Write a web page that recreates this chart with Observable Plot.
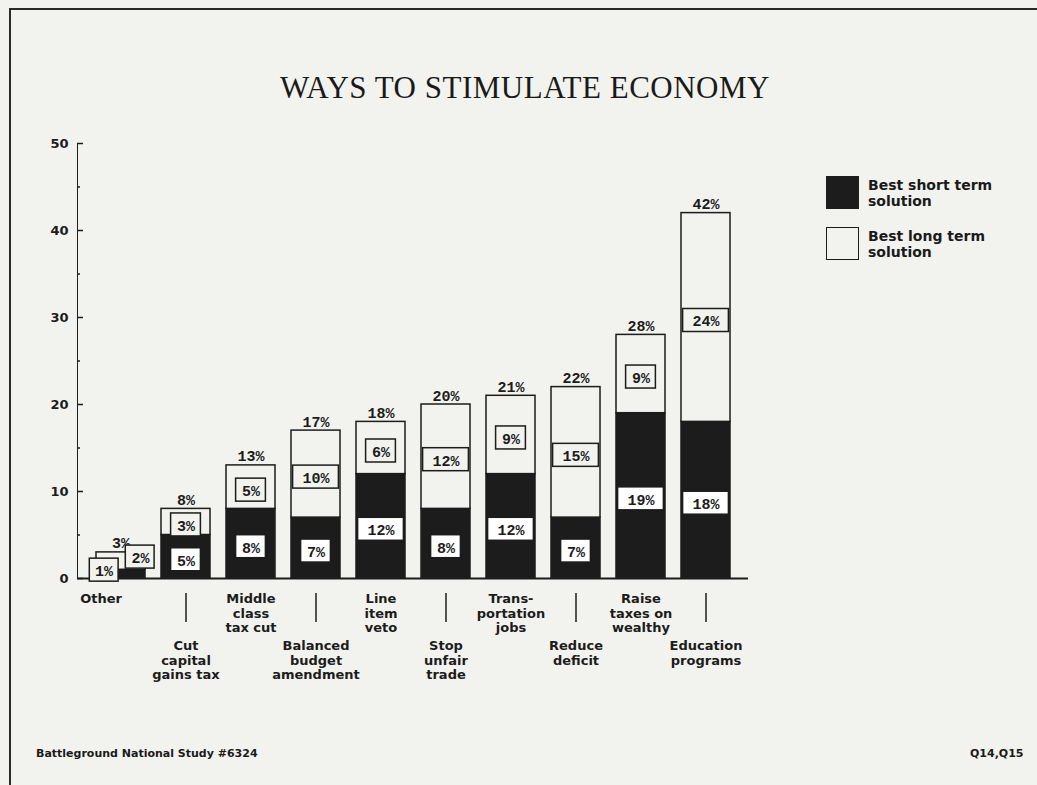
<!DOCTYPE html>
<html>
<head>
<meta charset="utf-8">
<script src="https://cdn.jsdelivr.net/npm/d3@7"></script>
<script src="https://cdn.jsdelivr.net/npm/@observablehq/plot@0.6"></script>
<style>
  html, body { margin: 0; padding: 0; background: #f2f3ee; }
  #page { position: relative; width: 1037px; height: 785px; overflow: hidden; background: #f2f3ee; color: #1a1a1a; }
  #frame { position: absolute; left: 9px; top: 8px; width: 1100px; height: 900px; border-left: 2px solid #2a2a2a; border-top: 2px solid #2a2a2a; box-sizing: border-box; }
  #title { position: absolute; left: 0; width: 1050px; top: 72px; text-align: center; font-family: "Liberation Serif", serif; font-size: 31px; letter-spacing: 0.5px; line-height: 1; }
  #chart { position: absolute; left: 0; top: 0; }
  .leg { position: absolute; left: 826px; width: 33px; height: 33px; box-sizing: border-box; }
  .legtext { position: absolute; left: 868px; font-family: "DejaVu Sans", sans-serif; font-weight: bold; font-size: 14px; line-height: 16px; }
  .foot { position: absolute; top: 747px; font-family: "DejaVu Sans", sans-serif; font-weight: bold; font-size: 11px; }
</style>
</head>
<body>
<div id="page">
  <div id="frame"></div>
  <div id="title">WAYS TO STIMULATE ECONOMY</div>
  <div id="chart"></div>
  <div class="leg" style="top:176px; background:#1c1c1c;"></div>
  <div class="legtext" style="top:177px;">Best short term<br>solution</div>
  <div class="leg" style="top:227px; background:#f2f3ee; border:1.5px solid #1c1c1c;"></div>
  <div class="legtext" style="top:228px;">Best long term<br>solution</div>
  <div class="foot" style="left:36px;">Battleground National Study #6324</div>
  <div class="foot" style="left:970px;">Q14,Q15</div>
</div>
<script>
// ---- data ----
const categories = ["Other", "Cut capital gains tax", "Middle class tax cut", "Balanced budget amendment",
  "Line item veto", "Stop unfair trade", "Transportation jobs", "Reduce deficit",
  "Raise taxes on wealthy", "Education programs"];
const tickLabels = ["Other", "Cut\ncapital\ngains tax", "Middle\nclass\ntax cut", "Balanced\nbudget\namendment",
  "Line\nitem\nveto", "Stop\nunfair\ntrade", "Trans-\nportation\njobs", "Reduce\ndeficit",
  "Raise\ntaxes on\nwealthy", "Education\nprograms"];
const shortTerm = [1, 5, 8, 7, 12, 8, 12, 7, 19, 18];
const longTerm  = [2, 3, 5, 10, 6, 12, 9, 15, 9, 24];
const totals    = [3, 8, 13, 17, 18, 20, 21, 22, 28, 42];
const yTicks = [0, 10, 20, 30, 40, 50];
const yMinorTicks = [5, 15, 25, 35, 45];

const rows = categories.map((c, i) => ({
  cat: c, label: tickLabels[i], i,
  short: shortTerm[i], long: longTerm[i], total: totals[i]
}));

const INK = "#1c1c1c", PAPER = "#f2f3ee";
const pctFont = {fontFamily: "Liberation Mono", fontWeight: "bold", fontSize: 15, fill: INK};
const catFont = {fontFamily: "DejaVu Sans", fontWeight: "bold", fontSize: 13, fill: INK, lineHeight: 1.08, lineAnchor: "top"};
const bandW = 49.2;
const boxInset = (txt) => txt.length <= 2 ? (bandW - 30) / 2 : (bandW - 46) / 2;

const rest = rows.filter(d => d.i > 0);
const other = rows.filter(d => d.i === 0);
const shortTxt = d => d.short + "%";
const longTxt = d => d.long + "%";

function boxMarks(data, y, txt, fill, stroke, dy) {
  const one = data.filter(d => txt(d).length <= 2);
  const two = data.filter(d => txt(d).length > 2);
  const marks = [];
  for (const [set, inset] of [[one, boxInset("1%")], [two, boxInset("10%")]]) {
    marks.push(Plot.barY(set, {x: "cat", y1: y, y2: y, insetTop: -11.5 + dy, insetBottom: -11.5 - dy,
      insetLeft: inset, insetRight: inset, fill, stroke, strokeWidth: 1.5}));
    marks.push(Plot.text(set, {x: "cat", y, text: txt, dy: dy + 1, ...pctFont}));
  }
  return marks;
}

const chart = Plot.plot({
  width: 1037,
  height: 700,
  marginTop: 143,
  marginBottom: 122,
  marginLeft: 77,
  marginRight: 289,
  style: {background: "transparent", overflow: "visible", fontFamily: "DejaVu Sans", fontSize: "13px", fontWeight: "bold", color: INK},
  x: {domain: categories, axis: null, paddingInner: 0.25, paddingOuter: 0.24},
  y: {domain: [0, 50], ticks: yTicks, tickSize: 0, tickPadding: 9, line: true, label: null, tickFormat: d => d},
  marks: [
    // bars
    Plot.barY(rows, {x: "cat", y1: 0, y2: "short", fill: INK, stroke: INK, strokeWidth: 1.5}),
    Plot.barY(rows, {x: "cat", y1: "short", y2: "total", fill: PAPER, stroke: INK, strokeWidth: 1.5}),
    // y ticks (inside)
    Plot.tickY(yTicks, {y: d => d, insetRight: 671 - 6, stroke: INK, strokeWidth: 1.5}),
    Plot.tickY(yMinorTicks, {y: d => d, insetRight: 671 - 3, stroke: INK, strokeWidth: 1.5}),
    // baseline
    Plot.ruleY([0], {stroke: INK, strokeWidth: 2}),
    // totals
    Plot.text(rows, {x: "cat", y: "total", text: d => d.total + "%", lineAnchor: "bottom", dy: -4, ...pctFont}),
    // segment labels
    ...boxMarks(rest, d => d.short / 2, shortTxt, "#ffffff", INK, 3),
    ...boxMarks(rest, d => d.short + d.long / 2, longTxt, PAPER, INK, 3),
    // "Other" labels pushed aside
    Plot.barY(other, {x: "cat", y1: d => d.short / 2, y2: d => d.short / 2, insetTop: -11.5 - 4, insetBottom: -11.5 + 4,
      insetLeft: -6.7, insetRight: 26.9, fill: PAPER, stroke: INK, strokeWidth: 1.5}),
    Plot.text(other, {x: "cat", y: d => d.short / 2, text: shortTxt, dx: -17, dy: -3, ...pctFont}),
    Plot.barY(other, {x: "cat", y1: d => d.short + d.long / 2, y2: d => d.short + d.long / 2, insetTop: -11.5 - 4, insetBottom: -11.5 + 4,
      insetLeft: 29.3, insetRight: -9.1, fill: PAPER, stroke: INK, strokeWidth: 1.5}),
    Plot.text(other, {x: "cat", y: d => d.short + d.long / 2, text: longTxt, dx: 19.5, dy: -3, ...pctFont}),
    // category labels, alternating rows
    Plot.text(other, {x: "cat", y: 0, text: "label", dy: 15, dx: -20, ...catFont}),
    Plot.text(rows.filter(d => d.i % 2 === 0 && d.i > 0), {x: "cat", y: 0, text: "label", dy: 15, ...catFont}),
    Plot.text(rows.filter(d => d.i % 2 === 1), {x: "cat", y: 0, text: "label", dy: 62, ...catFont}),
    Plot.ruleX(rows.filter(d => d.i % 2 === 1), {x: "cat", y1: 0, y2: 0, insetTop: 15, insetBottom: -44, stroke: INK, strokeWidth: 1.5})
  ]
});
document.getElementById("chart").appendChild(chart);
</script>
</body>
</html>
